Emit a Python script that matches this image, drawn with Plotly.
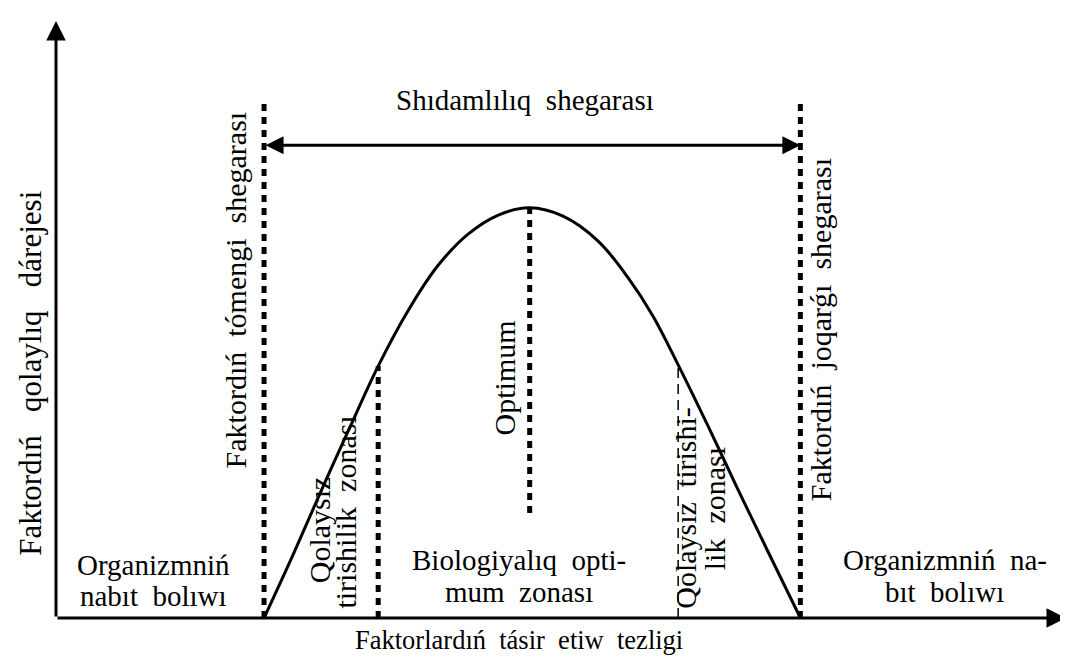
import plotly.graph_objects as go

# ---------------- data (factor intensity 0-100, favourability 0-100) ----------------
curve_x = [20.6, 23.5, 26.2, 28.9, 31.9, 34.9, 37.8, 40.8, 43.8, 46.9,
           50.2, 53.7, 56.6, 59.1, 61.6, 64.6, 67.5, 70.5, 73.7]
curve_y = [0.0, 10.7, 21.1, 31.2, 42.2, 51.6, 59.0, 64.3, 67.5, 68.7,
           67.3, 63.1, 57.1, 50.6, 42.4, 32.0, 21.6, 11.1, 0.0]

limit_x = [20.6, 73.7]          # lower / upper tolerance limits
limit_top = 87.1
stress_x = [31.9, 61.6]         # edges of the stress zones
stress_top = [42.2, 42.4]
optimum_x = 46.9
optimum_y = [17.6, 68.7]
tolerance_y = 79.2

FONT = "Liberation Serif"
H = 29   # horizontal text size
V = 30   # rotated text size

fig = go.Figure()

# response curve
fig.add_trace(go.Scatter(x=curve_x, y=curve_y, mode="lines", line_shape="spline",
                         line=dict(color="black", width=3), hoverinfo="skip"))

# tolerance limits (bold short dashes)
for xv in limit_x:
    fig.add_trace(go.Scatter(x=[xv, xv], y=[0, limit_top], mode="lines",
                             line=dict(color="black", width=5, dash="7px,6px"),
                             hoverinfo="skip"))

# optimum line
fig.add_trace(go.Scatter(x=[optimum_x, optimum_x], y=optimum_y, mode="lines",
                         line=dict(color="black", width=5, dash="7px,6px"),
                         hoverinfo="skip"))

# stress zone edges
fig.add_trace(go.Scatter(x=[stress_x[0], stress_x[0]], y=[0, stress_top[0]], mode="lines",
                         line=dict(color="black", width=5, dash="7px,6px"),
                         hoverinfo="skip"))
fig.add_trace(go.Scatter(x=[stress_x[1], stress_x[1]], y=[0, stress_top[1]], mode="lines",
                         line=dict(color="black", width=1.5, dash="10px,6px"),
                         hoverinfo="skip"))

ann = []
# axes with arrows
ann.append(dict(x=0, y=100, ax=0, ay=0, xref="x", yref="y", axref="x", ayref="y",
                showarrow=True, arrowhead=2, arrowsize=1.3, arrowwidth=3,
                arrowcolor="black", text=""))
ann.append(dict(x=100, y=0, ax=0, ay=0, xref="x", yref="y", axref="x", ayref="y",
                showarrow=True, arrowhead=2, arrowsize=1.3, arrowwidth=3,
                arrowcolor="black", text=""))
# tolerance range double arrow
ann.append(dict(x=limit_x[1], y=tolerance_y, ax=limit_x[0], ay=tolerance_y,
                xref="x", yref="y", axref="x", ayref="y",
                showarrow=True, arrowhead=2, arrowside="end+start", arrowsize=1.2,
                arrowwidth=3, arrowcolor="black", text=""))


def label(text, x, y, size=H, angle=0, xanchor="center", yanchor="middle",
          ref="x", yref="y"):
    ann.append(dict(text=text, x=x, y=y, xref=ref, yref=yref, showarrow=False,
                    textangle=angle, xanchor=xanchor, yanchor=yanchor, align="center",
                    font=dict(family=FONT, size=size, color="black")))


label("Shıdamlılıq  shegarası", 46.4, 86.8)
label("Faktordıń   qolaylıq   dárejesi", -0.0445, 0.41, size=31, angle=-90,
      xanchor="left", ref="paper", yref="paper")
label("Faktordıń  tómengi  shegarası", 17.8, 55.0, size=V, angle=-90)
label("Faktordıń  joqarǵı  shegarası", 75.7, 48.3, size=V, angle=-90)
label("Optimum", 44.4, 40.2, size=V, angle=-90)
label("Qolaysız", 26.1, 5.5, size=V, angle=-90, yanchor="bottom")
label("tirishilik  zonası", 28.7, 1.3, size=V, angle=-90, yanchor="bottom")
label("Qolaysız  tirishi-", 62.3, 18.5, size=V, angle=-90)
label("lik  zonası", 65.2, 18.3, size=V, angle=-90)
label("Organizmniń", 9.7, 8.9)
label("nabıt  bolıwı", 9.7, 3.7)
label("Biologiyalıq  opti-", 45.8, 9.7)
label("mum  zonası", 45.8, 4.4)
label("Organizmniń  na-", 88.0, 9.7)
label("bıt  bolıwı", 88.0, 4.4)
label("Faktorlardıń  tásir  etiw  tezligi", 0.458, -0.037, size=26.5,
      ref="paper", yref="paper")

fig.update_layout(
    width=1068, height=660, autosize=False,
    margin=dict(l=48, r=10, t=13, b=50, pad=0),
    paper_bgcolor="white", plot_bgcolor="white",
    showlegend=False,
    xaxis=dict(range=[0, 100], visible=False, fixedrange=True),
    yaxis=dict(range=[0, 100], visible=False, fixedrange=True),
    annotations=ann,
)

fig.write_html("out.html")
